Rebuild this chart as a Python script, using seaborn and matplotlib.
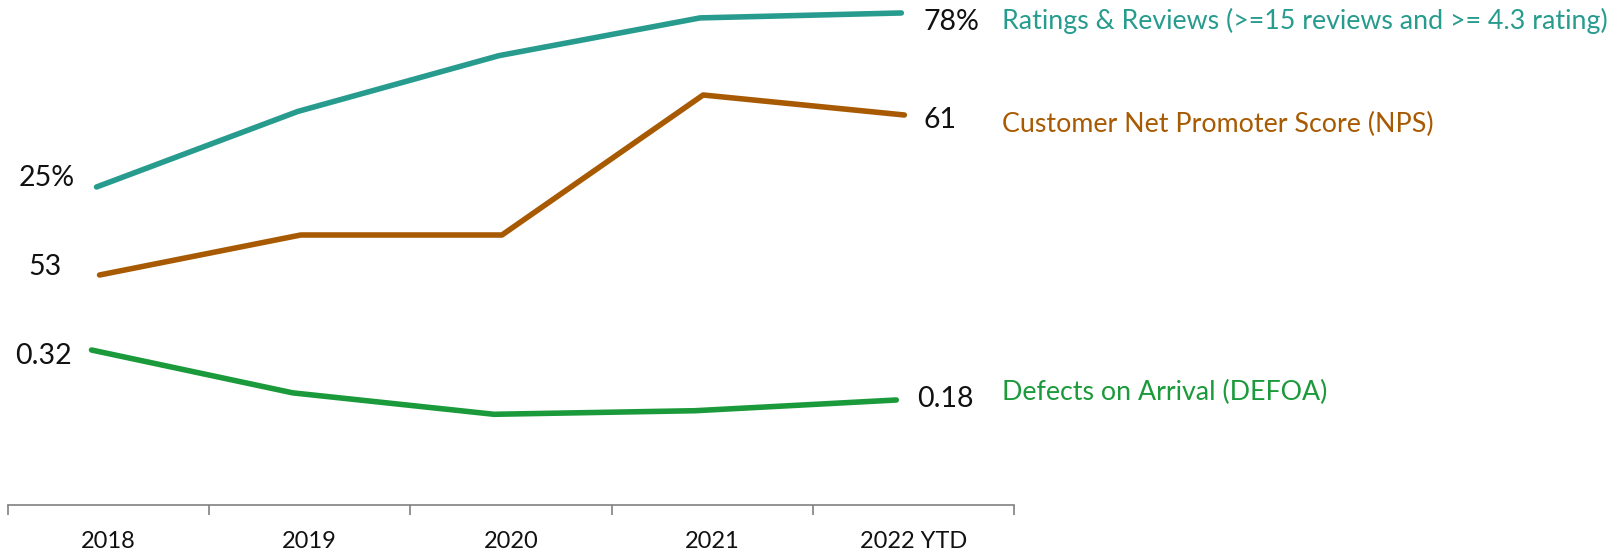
import matplotlib
matplotlib.use("Agg")
import matplotlib.pyplot as plt
import seaborn as sns
import pandas as pd
import numpy as np

# ---- data ----
categories = ["2018", "2019", "2020", "2021", "2022 YTD"]
ratings_reviews = [25, 48, 65, 76.5, 78]          # %
nps = [53, 55, 55, 62, 61]
defoa = [0.32, 0.20, 0.14, 0.15, 0.18]

series_names = ["Ratings & Reviews (>=15 reviews and >= 4.3 rating)",
                "Customer Net Promoter Score (NPS)",
                "Defects on Arrival (DEFOA)"]
first_labels = ["25%", "53", "0.32"]
last_labels = ["78%", "61", "0.18"]

colors = ["#279C8E", "#A85A02", "#1A9A3A"]

sns.set_theme(style="white")
plt.rcParams['font.family'] = ['Lato', 'DejaVu Sans']

W, H = 1623, 551
fig = plt.figure(figsize=(W / 100, H / 100), dpi=100)
ax = fig.add_axes([8 / W, (H - 505) / H, (1014 - 8) / W, 505 / H])

x = np.arange(len(categories))
ax.set_xlim(-0.5, len(categories) - 0.5)

# per-series layout: y-limits, x shift, label anchors (axes fraction x, pixel dy)
layouts = [
    ((-71.85, 81.95), -0.06, (0.0666, 9), (0.9105, -9), (0.988, -8)),
    ((41.5, 66.75), -0.045, (0.0537, 8), (0.9105, -5), (0.988, -9)),
    ((-0.114, 1.300), -0.085, (0.0636, -6), (0.9036, 1), (0.988, 8)),
]
values = [ratings_reviews, nps, defoa]

for i, (vals, lay) in enumerate(zip(values, layouts)):
    ylim, dx, a_first, a_last, a_name = lay
    tax = ax.twinx()
    df = pd.DataFrame({"x": x + dx, "y": vals})
    sns.lineplot(data=df, x="x", y="y", ax=tax, color=colors[i], lw=4.0,
                 solid_capstyle="round")
    tax.set_ylim(*ylim)
    tax.set_xlim(-0.5, len(categories) - 0.5)
    tax.axis("off")
    tr = ("axes fraction", "data")
    tax.annotate(first_labels[i], (a_first[0], vals[0]), xycoords=tr,
                 xytext=(0, a_first[1]), textcoords="offset pixels",
                 ha="right", va="center", fontsize=20.5, color="#111111",
                 annotation_clip=False)
    tax.annotate(last_labels[i], (a_last[0], vals[-1]), xycoords=tr,
                 xytext=(0, a_last[1]), textcoords="offset pixels",
                 ha="left", va="center", fontsize=20.5, color="#111111",
                 annotation_clip=False)
    tax.annotate(series_names[i], (a_name[0], vals[-1]), xycoords=tr,
                 xytext=(0, a_name[1]), textcoords="offset pixels",
                 ha="left", va="center", fontsize=19.3, color=colors[i],
                 annotation_clip=False)

# x axis: category axis with ticks between categories
ax.set_yticks([])
for s in ["top", "right", "left"]:
    ax.spines[s].set_visible(False)
ax.spines["bottom"].set_color("#808080")
ax.spines["bottom"].set_linewidth(1.2)
ax.set_xticks(x)
ax.set_xticklabels(categories, fontsize=17, color="#111111")
ax.set_xticks(np.arange(-0.5, len(categories)), minor=True)
ax.tick_params(axis="x", which="major", length=0, pad=19)
ax.tick_params(axis="x", which="minor", length=7, width=1.2, color="#808080",
               direction="out", bottom=True)
ax.set_ylabel("")
ax.set_xlabel("")
ax.set_facecolor("white")

fig.savefig("out.png", dpi=100, facecolor="white")
